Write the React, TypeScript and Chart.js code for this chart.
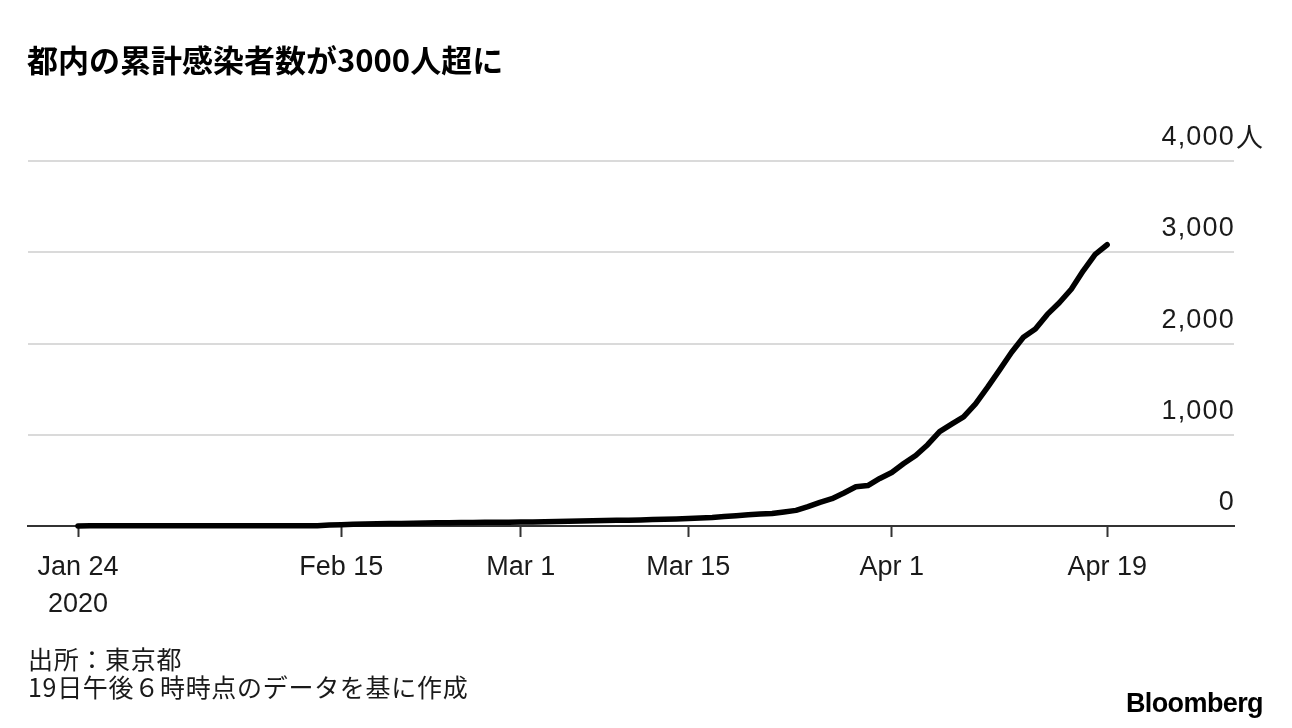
import React, { useEffect, useRef } from "react";
import { Chart, registerables } from "chart.js";

Chart.register(...registerables);

// Daily cumulative confirmed cases in Tokyo, from Jan 24 2020 (index 0) to Apr 19 2020 (index 86)
const cumulativeCases: number[] = [
  1, 2, 2, 2, 2, 2, 3, 3, 3, 3, // Jan 24 - Feb 2
  3, 3, 3, 3, 3, 3, 3, 3, 3, 3, // Feb 3 - Feb 12
  4, 10, 15, 20, 22, 25, 27, 28, 31, 33, // Feb 13 - Feb 22
  35, 36, 37, 39, 40, 41, 42, 43, 45, 46, // Feb 23 - Mar 3
  48, 51, 55, 57, 60, 62, 64, 67, 70, 74, // Mar 4 - Mar 13
  78, 83, 88, 94, 104, 113, 124, 131, 138, 154, // Mar 14 - Mar 23
  171, 212, 259, 299, 362, 430, 443, 521, 587, 684, // Mar 24 - Apr 2
  773, 891, 1034, 1116, 1195, 1339, 1519, 1708, 1902, 2068, // Apr 3 - Apr 12
  2159, 2319, 2446, 2595, 2796, 2977, 3082, // Apr 13 - Apr 19
];

// x-axis ticks (day index from Jan 24 2020) and their labels
const xTickDays: number[] = [0, 22, 37, 51, 68, 86];
const xTickLabels: (string | string[])[] = [
  ["Jan 24", "2020"],
  "Feb 15",
  "Mar 1",
  "Mar 15",
  "Apr 1",
  "Apr 19",
];

// y-axis ticks and labels
const yTickValues: number[] = [0, 1000, 2000, 3000, 4000];
const yTickLabels: string[] = ["0", "1,000", "2,000", "3,000", "4,000"];
const yUnit = "人";

const titleText = "都内の累計感染者数が3000人超に";
const sourceLines: string[] = ["出所：東京都", "19日午後６時時点のデータを基に作成"];
const brandText = "Bloomberg";

const LATIN = '"Liberation Sans", Arial, Helvetica, sans-serif';
const CJK = '"Noto Sans CJK JP", "Noto Sans", sans-serif';

const yLabelPlugin = {
  id: "yLabels",
  afterDraw(chart: any) {
    const ctx = chart.ctx;
    const ys = chart.scales.y;
    const x = chart.chartArea.right + 1;
    ctx.save();
    ctx.fillStyle = "#1a1a1a";
    ctx.textBaseline = "alphabetic";
    yTickValues.forEach((v, i) => {
      const py = ys.getPixelForValue(v) - 16;
      ctx.font = `27px ${LATIN}`;
      try {
        (ctx as any).letterSpacing = "1.2px";
      } catch (e) {}
      ctx.textAlign = "right";
      ctx.fillText(yTickLabels[i], x, py);
      try {
        (ctx as any).letterSpacing = "0px";
      } catch (e) {}
      if (i === yTickValues.length - 1) {
        ctx.textAlign = "left";
        ctx.font = `27px ${CJK}`;
        ctx.fillText(yUnit, x + 1, py + 2);
      }
    });
    ctx.restore();
  },
};

export default function App() {
  const canvasRef = useRef<HTMLCanvasElement | null>(null);

  useEffect(() => {
    if (!canvasRef.current) return;
    const chart = new Chart(canvasRef.current, {
      type: "line",
      data: {
        datasets: [
          {
            data: cumulativeCases.map((v, i) => ({ x: i, y: v })),
            borderColor: "#000000",
            borderWidth: 5.5,
            pointRadius: 0,
            tension: 0,
            borderCapStyle: "round",
            borderJoinStyle: "round",
            fill: false,
            clip: false as any,
          },
        ],
      },
      options: {
        animation: false,
        responsive: false,
        devicePixelRatio: 1,
        layout: {
          padding: { left: 28, right: 58, top: 161, bottom: 102 },
        },
        plugins: {
          legend: { display: false },
          tooltip: { enabled: false },
          title: { display: false },
        },
        scales: {
          x: {
            type: "linear",
            min: -4.18,
            max: 96.6,
            afterBuildTicks: (s: any) => {
              s.ticks = xTickDays.map((d) => ({ value: d }));
            },
            afterFit: (s: any) => {
              s.height = 100;
            },
            ticks: {
              autoSkip: false,
              maxRotation: 0,
              minRotation: 0,
              padding: 12,
              color: "#1a1a1a",
              font: { family: LATIN, size: 27, lineHeight: 1.37 },
              callback: (v: any) => {
                const idx = xTickDays.indexOf(Number(v));
                return idx >= 0 ? xTickLabels[idx] : "";
              },
            },
            grid: {
              drawOnChartArea: false,
              drawTicks: true,
              tickLength: 11,
              tickColor: "#333333",
              tickWidth: 2,
            },
            border: { display: true, color: "#333333", width: 2 },
          },
          y: {
            type: "linear",
            position: "right",
            min: 0,
            max: 4000,
            afterBuildTicks: (s: any) => {
              s.ticks = yTickValues.map((v) => ({ value: v }));
            },
            afterFit: (s: any) => {
              s.width = 0;
            },
            ticks: { display: false },
            grid: {
              color: "#dadada",
              lineWidth: 2,
              drawTicks: false,
            },
            border: { display: false },
          },
        },
      },
      plugins: [yLabelPlugin],
    } as any);
    return () => chart.destroy();
  }, []);

  return (
    <div
      style={{
        position: "fixed",
        left: 0,
        top: 0,
        width: 1292,
        height: 728,
        background: "#ffffff",
        overflow: "hidden",
      }}
    >
      <canvas
        ref={canvasRef}
        width={1292}
        height={728}
        style={{ position: "absolute", left: 0, top: 0, width: 1292, height: 728 }}
      />
      <div
        style={{
          position: "absolute",
          left: 27,
          top: 42,
          fontFamily: CJK,
          fontWeight: 700,
          fontSize: 31,
          lineHeight: "34px",
          color: "#000",
          whiteSpace: "nowrap",
        }}
      >
        {titleText}
      </div>
      <div
        style={{
          position: "absolute",
          left: 28,
          top: 644,
          fontFamily: CJK,
          fontSize: 25,
          lineHeight: "28px",
          letterSpacing: "0.7px",
          color: "#1a1a1a",
          whiteSpace: "nowrap",
        }}
      >
        {sourceLines.map((l, i) => (
          <div key={i}>{l}</div>
        ))}
      </div>
      <div
        style={{
          position: "absolute",
          right: 29,
          top: 689,
          fontFamily: LATIN,
          fontWeight: 700,
          fontSize: 27,
          lineHeight: "28px",
          letterSpacing: "-0.6px",
          color: "#000",
          whiteSpace: "nowrap",
        }}
      >
        {brandText}
      </div>
    </div>
  );
}
